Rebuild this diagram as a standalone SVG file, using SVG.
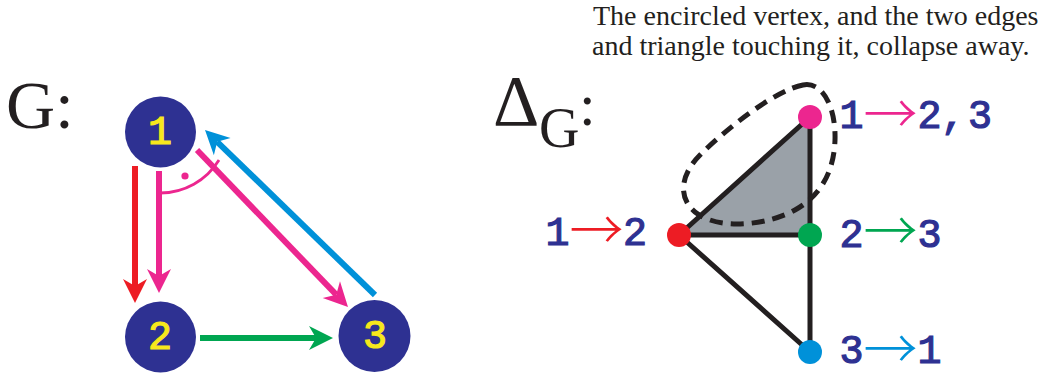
<svg xmlns="http://www.w3.org/2000/svg" width="1047" height="377" viewBox="0 0 1047 377">
<style>
.serif{font-family:"Liberation Serif","Times New Roman",serif;fill:#231f20}
.mono{font-family:"Liberation Mono","Courier New",monospace;stroke-width:1.2}
.lbl{font-size:40px;fill:#2e3192;stroke:#2e3192;text-anchor:middle}
.arr{font-family:"Noto Sans CJK JP",sans-serif;font-weight:300;font-size:54px;text-anchor:middle}
.node{fill:#2e3192}
.ndig{font-size:40px;fill:#f7e81c;stroke:#f7e81c;text-anchor:middle}
.edge{stroke-width:6;fill:none}
.bl{stroke:#231f20;stroke-width:5;fill:none;stroke-linecap:round}
</style>
<defs>
<marker id="hRed" markerUnits="userSpaceOnUse" markerWidth="40" markerHeight="40" refX="3" refY="0" orient="auto" viewBox="-10 -20 40 40" overflow="visible"><path d="M20,0 L-4,-12 L3,0 L-4,12 Z" fill="#ed1c24"/></marker>
<marker id="hPink" markerUnits="userSpaceOnUse" markerWidth="40" markerHeight="40" refX="3" refY="0" orient="auto" viewBox="-10 -20 40 40" overflow="visible"><path d="M20,0 L-4,-12 L3,0 L-4,12 Z" fill="#ec268f"/></marker>
<marker id="hBlue" markerUnits="userSpaceOnUse" markerWidth="40" markerHeight="40" refX="3" refY="0" orient="auto" viewBox="-10 -20 40 40" overflow="visible"><path d="M20,0 L-4,-12 L3,0 L-4,12 Z" fill="#0091d9"/></marker>
<marker id="hGreen" markerUnits="userSpaceOnUse" markerWidth="40" markerHeight="40" refX="3" refY="0" orient="auto" viewBox="-10 -20 40 40" overflow="visible"><path d="M20,0 L-4,-12 L3,0 L-4,12 Z" fill="#00a651"/></marker>
</defs>

<!-- Title -->
<text class="serif" x="593" y="25" font-size="28">The encircled vertex, and the two edges</text>
<text class="serif" x="592" y="55" font-size="28">and triangle touching it, collapse away.</text>

<!-- G: -->
<text class="serif" x="6" y="128" font-size="68">G:</text>

<!-- Delta_G: -->
<g id="deltaG">
<text class="serif" x="493" y="125" font-size="72">Δ</text>
<text class="serif" x="539" y="147" font-size="56">G</text>
<text class="serif" x="579" y="125" font-size="60">:</text>
</g>

<!-- Left graph connectors -->
<g id="connectors-G">
<line class="edge" x1="135" y1="166" x2="135" y2="286" stroke="#ed1c24" marker-end="url(#hRed)"/>
<line class="edge" x1="159" y1="171" x2="159" y2="276" stroke="#ec268f" marker-end="url(#hPink)"/>
<line class="edge" x1="197" y1="150" x2="336.2" y2="294.7" stroke="#ec268f" marker-end="url(#hPink)"/>
<line class="edge" x1="375" y1="295" x2="217.2" y2="141.8" stroke="#0091d9" marker-end="url(#hBlue)"/>
<line class="edge" x1="200" y1="338" x2="316" y2="338" stroke="#00a651" stroke-width="7" marker-end="url(#hGreen)"/>
<path d="M160,193 A69,69 0 0 0 219,160" stroke="#ec268f" stroke-width="2.8" fill="none"/>
<circle cx="185" cy="176" r="3.6" fill="#ec268f"/>
</g>

<g id="nodeG1"><circle class="node" cx="160.5" cy="132" r="35.5"/><text class="mono ndig" x="160" y="144">1</text></g>
<g id="nodeG2"><circle class="node" cx="160.5" cy="337" r="35.5"/><text class="mono ndig" x="160" y="349">2</text></g>
<g id="nodeG3"><circle class="node" cx="374.5" cy="336" r="36"/><text class="mono ndig" x="375" y="348">3</text></g>

<!-- Right complex -->
<g id="connectors-Delta">
<polygon points="810,117 679,235 810,235" fill="#9aa1a8"/>
<line class="bl" x1="810" y1="117" x2="679" y2="235"/>
<line class="bl" x1="810" y1="117" x2="810" y2="235"/>
<line class="bl" x1="679" y1="235" x2="810" y2="235"/>
<line class="bl" x1="679" y1="235" x2="810" y2="352"/>
<line class="bl" x1="810" y1="235" x2="810" y2="352"/>
<path d="M803,85 C823,81 836,108 835,140 C834,170 822,195 795,210 C770,224 720,232 695,212 C678,198 680,175 700,155 C725,130 775,90 803,85 Z" fill="none" stroke="#231f20" stroke-width="5" stroke-dasharray="13 8"/>
</g>

<g id="v12"><circle cx="679" cy="235" r="12" fill="#ed1c24"/>
<text class="mono lbl" x="557.5" y="245">1</text>
<text class="arr" x="596.5" y="250" fill="#ed1c24">→</text>
<text class="mono lbl" x="635" y="245">2</text></g>
<g id="v123"><circle cx="810" cy="117" r="12" fill="#ec268f"/>
<text class="mono lbl" x="851.5" y="128">1</text>
<text class="arr" x="890.5" y="134" fill="#ec268f">→</text>
<text class="mono lbl"><tspan x="929.5" y="128">2</tspan><tspan x="953" y="128">,</tspan><tspan x="980" y="128">3</tspan></text></g>
<g id="v23"><circle cx="810" cy="235" r="12" fill="#00a651"/>
<text class="mono lbl" x="851.5" y="247">2</text>
<text class="arr" x="890.5" y="251" fill="#00a651">→</text>
<text class="mono lbl" x="929.5" y="247">3</text></g>
<g id="v31"><circle cx="810" cy="352" r="12" fill="#0091d9"/>
<text class="mono lbl" x="851.5" y="363">3</text>
<text class="arr" x="890.5" y="369" fill="#0091d9">→</text>
<text class="mono lbl" x="929.5" y="363">1</text></g>
</svg>
